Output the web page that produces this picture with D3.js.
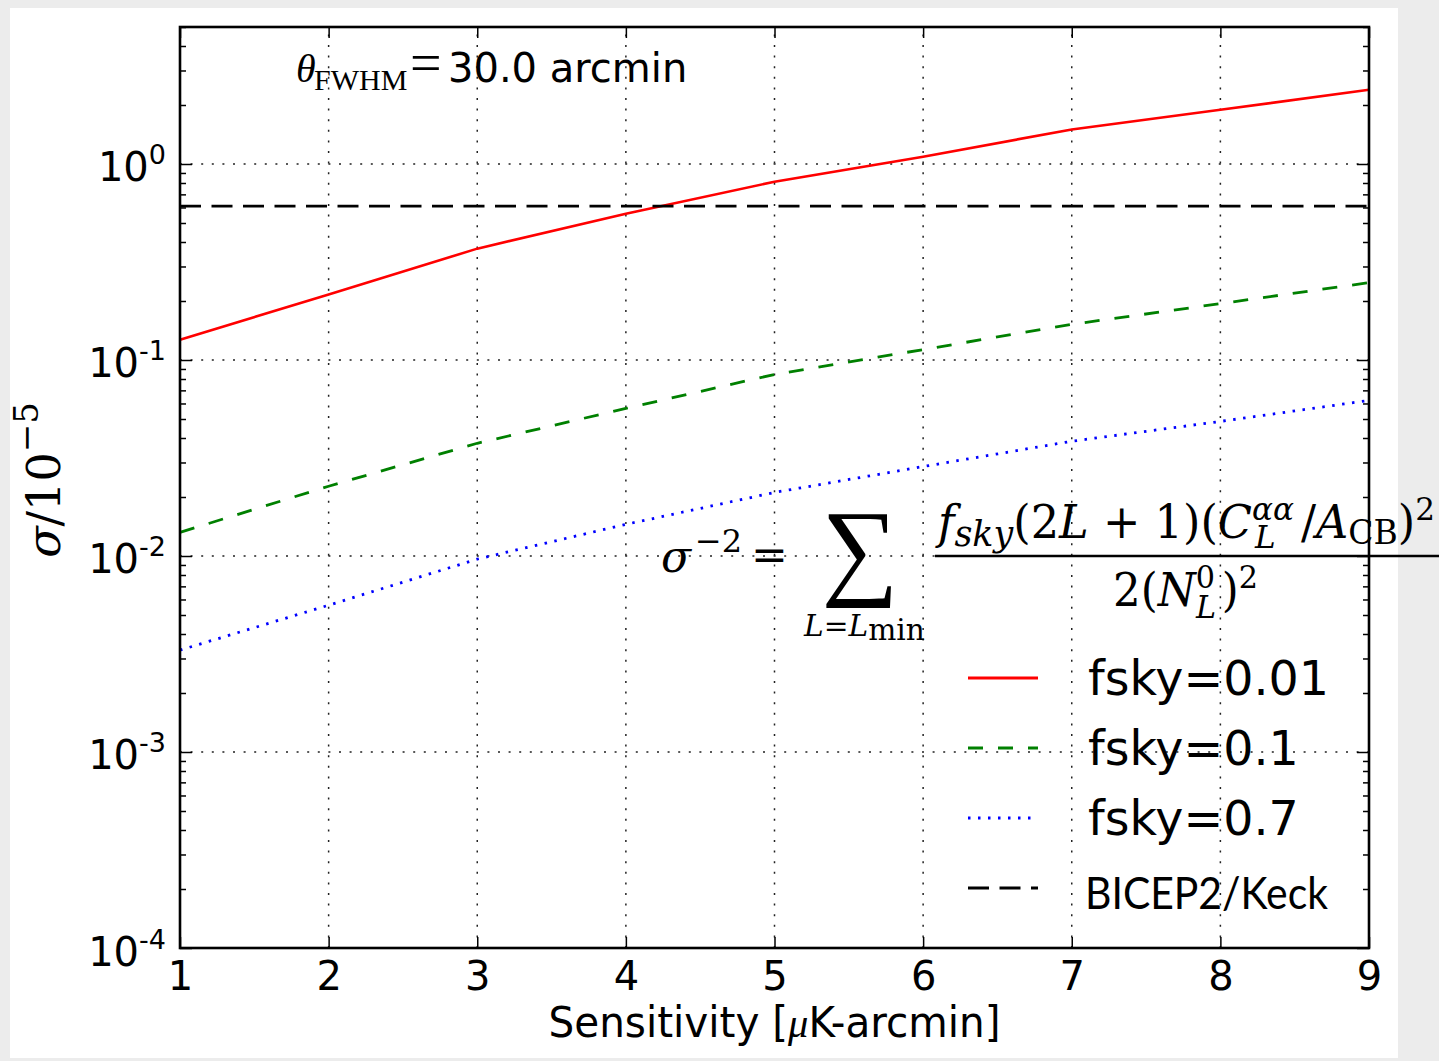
<!DOCTYPE html>
<html>
<head>
<meta charset="utf-8">
<script src="https://cdn.jsdelivr.net/npm/d3@7"></script>
<style>
  html, body { margin: 0; padding: 0; background: #ececec; }
  svg { display: block; }
</style>
</head>
<body>
<svg id="chart" width="1439" height="1061"></svg>
<script>
// ---- data ----
const sensitivity = [1, 2, 3, 4, 5, 6, 7, 8, 9];
const sigmaFsky001 = [0.127, 0.216, 0.370, 0.558, 0.812, 1.09, 1.50, 1.89, 2.39];
const sigmaFsky01  = [0.0132, 0.0227, 0.0376, 0.0566, 0.0844, 0.113, 0.152, 0.194, 0.248];
const sigmaFsky07  = [0.00331, 0.00561, 0.00964, 0.0145, 0.0211, 0.0286, 0.0385, 0.0486, 0.0622];
const bicepLevel = 0.61;
const seriesLabels = ["fsky=0.01", "fsky=0.1", "fsky=0.7", "BICEP2/Keck"];
const xTickValues = [1, 2, 3, 4, 5, 6, 7, 8, 9];
const yDecadeExponents = [-4, -3, -2, -1, 0];
const xDomain = [1, 9];
const yDomain = [1e-4, 5];

// ---- layout ----
const svg = d3.select("#chart");
const L = 180, R = 1369, T = 27, B = 948;

svg.append("rect").attr("x", 10).attr("y", 8).attr("width", 1388).attr("height", 1050).attr("fill", "#ffffff");

const x = d3.scaleLinear().domain(xDomain).range([L, R]);
const y = d3.scaleLog().domain(yDomain).range([B, T]);

const yMajor = yDecadeExponents.map(e => Math.pow(10, e));
const yMinor = [];
for (let e = -4; e <= 0; e++) for (let m = 2; m <= 9; m++) { const v = m * Math.pow(10, e); if (v <= yDomain[1]) yMinor.push(v); }

// grid
const grid = svg.append("g").attr("stroke", "#222").attr("stroke-width", 1.5).attr("stroke-dasharray", "2,8.6").attr("fill", "none");
xTickValues.slice(1, -1).forEach(v => grid.append("line").attr("x1", x(v)).attr("x2", x(v)).attr("y1", B).attr("y2", T));
yMajor.slice(1).forEach(v => grid.append("line").attr("x1", L).attr("x2", R).attr("y1", y(v)).attr("y2", y(v)));

// lines
const line = d3.line().x((d, i) => x(sensitivity[i])).y(d => y(d));
svg.append("path").datum(sigmaFsky001).attr("d", line).attr("fill", "none").attr("stroke", "#ff0000").attr("stroke-width", 2.6);
svg.append("path").datum(sigmaFsky01).attr("d", line).attr("fill", "none").attr("stroke", "#008000").attr("stroke-width", 2.8).attr("stroke-dasharray", "15,15");
svg.append("path").datum(sigmaFsky07).attr("d", line).attr("fill", "none").attr("stroke", "#0000ff").attr("stroke-width", 2.8).attr("stroke-dasharray", "2.5,7.5");
svg.append("line").attr("x1", x(xDomain[0])).attr("x2", x(xDomain[1])).attr("y1", y(bicepLevel)).attr("y2", y(bicepLevel))
  .attr("stroke", "#000").attr("stroke-width", 2.8).attr("stroke-dasharray", "21,10.5");

// axes ticks (inside)
const tickStyle = g => { g.select(".domain").remove(); g.selectAll(".tick line").attr("stroke", "#000").attr("stroke-width", 1.5); };
svg.append("g").attr("transform", `translate(0,${B})`)
  .call(d3.axisBottom(x).tickValues(xTickValues).tickSizeInner(-11).tickSizeOuter(0).tickPadding(14).tickFormat(d3.format("d")))
  .call(tickStyle)
  .call(g => g.selectAll("text").attr("font-family", "DejaVu Sans").attr("font-size", 40).attr("fill", "#000"));
svg.append("g").attr("transform", `translate(0,${T})`)
  .call(d3.axisTop(x).tickValues(xTickValues).tickSizeInner(-11).tickSizeOuter(0).tickFormat(""))
  .call(tickStyle);
svg.append("g").attr("transform", `translate(${L},0)`)
  .call(d3.axisLeft(y).tickValues(yMajor).tickSizeInner(-12).tickSizeOuter(0).tickFormat(""))
  .call(tickStyle)
  .call(g => g.selectAll(".tick").each(function(d) {
    const t = d3.select(this).append("text").attr("x", -14).attr("y", 17).attr("text-anchor", "end")
      .attr("font-family", "DejaVu Sans").attr("font-size", 40).attr("fill", "#000");
    t.append("tspan").text("10");
    t.append("tspan").attr("font-size", 27).attr("dy", -17).text(String(Math.round(Math.log10(d))));
  }));
svg.append("g").attr("transform", `translate(${R},0)`)
  .call(d3.axisRight(y).tickValues(yMajor).tickSizeInner(-12).tickSizeOuter(0).tickFormat(""))
  .call(tickStyle);
svg.append("g").attr("transform", `translate(${L},0)`)
  .call(d3.axisLeft(y).tickValues(yMinor).tickSizeInner(-6).tickSizeOuter(0).tickFormat(""))
  .call(tickStyle);
svg.append("g").attr("transform", `translate(${R},0)`)
  .call(d3.axisRight(y).tickValues(yMinor).tickSizeInner(-6).tickSizeOuter(0).tickFormat(""))
  .call(tickStyle);

// frame
svg.append("rect").attr("x", L).attr("y", T).attr("width", R - L).attr("height", B - T)
  .attr("fill", "none").attr("stroke", "#000").attr("stroke-width", 2.6);

// x label
svg.append("text").attr("x", (L + R) / 2).attr("y", 1037).attr("text-anchor", "middle")
  .attr("font-family", "DejaVu Sans").attr("font-size", 42).attr("fill", "#000")
  .attr("textLength", 452).attr("lengthAdjust", "spacingAndGlyphs")
  .call(t => { t.append("tspan").text("Sensitivity ["); t.append("tspan").attr("font-family", "Liberation Serif").attr("font-style", "italic").text("μ"); t.append("tspan").text("K-arcmin]"); });

// y label
const yl = svg.append("text").attr("transform", "translate(60,480) rotate(-90)").attr("text-anchor", "middle")
  .attr("font-family", "DejaVu Serif").attr("font-size", 46).attr("fill", "#000");
yl.append("tspan").attr("font-style", "italic").text("σ");
yl.append("tspan").text("/10");
yl.append("tspan").attr("font-size", 34).attr("dy", -22).text("−5");

// beam annotation
const ann = svg.append("text").attr("y", 82).attr("fill", "#000");
ann.append("tspan").attr("x", 296).attr("font-family", "Liberation Serif").attr("font-style", "italic").attr("font-size", 40).text("θ");
ann.append("tspan").attr("x", 314).attr("dy", 8).attr("font-family", "Liberation Serif").attr("font-size", 30).text("FWHM");
ann.append("tspan").attr("x", 410).attr("dy", -8).attr("font-family", "Liberation Serif").attr("font-size", 56).text("=");
ann.append("tspan").attr("x", 448).attr("font-family", "DejaVu Sans").attr("font-size", 40).text("30.0 arcmin");

// helper: fit a group's bbox horizontally into [x0, x1]
function fitX(g, x0, x1) {
  const bb = g.node().getBBox();
  const s = (x1 - x0) / bb.width;
  g.attr("transform", `translate(${x0},0) scale(${s},1) translate(${-bb.x},0)`);
}

// formula overlay
const fm = svg.append("g").attr("fill", "#000").attr("font-family", "DejaVu Serif");
const s1 = fm.append("text").attr("x", 661).attr("y", 572).attr("font-size", 44);
s1.append("tspan").attr("font-style", "italic").text("σ");
s1.append("tspan").attr("font-size", 32).attr("dy", -20).attr("dx", 4).text("−2");
fm.append("text").attr("x", 751).attr("y", 570).attr("font-size", 44).text("=");
fm.append("text").attr("x", 860).attr("y", 585).attr("text-anchor", "middle").attr("font-size", 108).attr("font-family", "Liberation Serif").text("∑");
const lim = fm.append("text").attr("x", 803).attr("y", 636).attr("font-size", 30);
lim.append("tspan").attr("font-style", "italic").text("L");
lim.append("tspan").text("=");
lim.append("tspan").attr("font-style", "italic").text("L");
lim.append("tspan").attr("font-size", 30).attr("dy", 4).text("min");
fitX(lim, 803, 925);

const numG = fm.append("g");
const num = numG.append("text").attr("x", 0).attr("y", 538).attr("font-size", 46).attr("font-family", "DejaVu Serif");
num.append("tspan").attr("font-style", "italic").text("f");
num.append("tspan").attr("font-style", "italic").attr("font-size", 36).attr("dy", 8).text("sky");
num.append("tspan").attr("dy", -8).text("(2");
num.append("tspan").attr("font-style", "italic").text("L");
num.append("tspan").text(" + 1)(");
num.append("tspan").attr("font-style", "italic").text("C");
num.append("tspan").attr("font-style", "italic").attr("font-size", 32).attr("dy", -18).text("αα");
num.append("tspan").attr("font-style", "italic").attr("font-size", 32).attr("dx", -40).attr("dy", 28).text("L");
num.append("tspan").attr("dx", 26).attr("dy", -10).text("/");
num.append("tspan").attr("font-style", "italic").text("A");
num.append("tspan").attr("font-size", 34).attr("dy", 6).text("CB");
num.append("tspan").attr("dy", -6).text(")");
num.append("tspan").attr("font-size", 32).attr("dy", -18).text("2");
fitX(numG, 935, 1435);
fm.append("line").attr("x1", 935).attr("x2", 1439).attr("y1", 556).attr("y2", 556).attr("stroke", "#000").attr("stroke-width", 2.5);

const denG = fm.append("g");
const den = denG.append("text").attr("x", 0).attr("y", 606).attr("font-size", 46).attr("font-family", "DejaVu Serif");
den.append("tspan").text("2(");
den.append("tspan").attr("font-style", "italic").text("N");
den.append("tspan").attr("font-size", 32).attr("dy", -18).text("0");
den.append("tspan").attr("font-style", "italic").attr("font-size", 32).attr("dx", -20).attr("dy", 30).text("L");
den.append("tspan").attr("dx", 6).attr("dy", -12).text(")");
den.append("tspan").attr("font-size", 32).attr("dy", -18).text("2");
fitX(denG, 1113, 1258);

// legend
const legendY = [678, 748, 818, 888];
const legendStyles = [
  { stroke: "#ff0000", dash: null },
  { stroke: "#008000", dash: "15,15" },
  { stroke: "#0000ff", dash: "2.5,7.5" },
  { stroke: "#000000", dash: "21,10.5" }
];
seriesLabels.forEach((lab, i) => {
  const ln = svg.append("line").attr("x1", 968).attr("x2", 1038).attr("y1", legendY[i]).attr("y2", legendY[i])
    .attr("stroke", legendStyles[i].stroke).attr("stroke-width", 2.8);
  if (legendStyles[i].dash) ln.attr("stroke-dasharray", legendStyles[i].dash);
  const t = svg.append("text").attr("x", i < 3 ? 1088 : 1085).attr("y", legendY[i] + (i < 3 ? 17 : 21)).attr("fill", "#000");
  if (i < 3) t.attr("font-family", "DejaVu Sans").attr("font-size", 47.5).text(lab);
  else t.attr("font-family", "Lato").attr("font-size", 44).attr("textLength", 243).attr("lengthAdjust", "spacingAndGlyphs").text(lab);
});
</script>
</body>
</html>
